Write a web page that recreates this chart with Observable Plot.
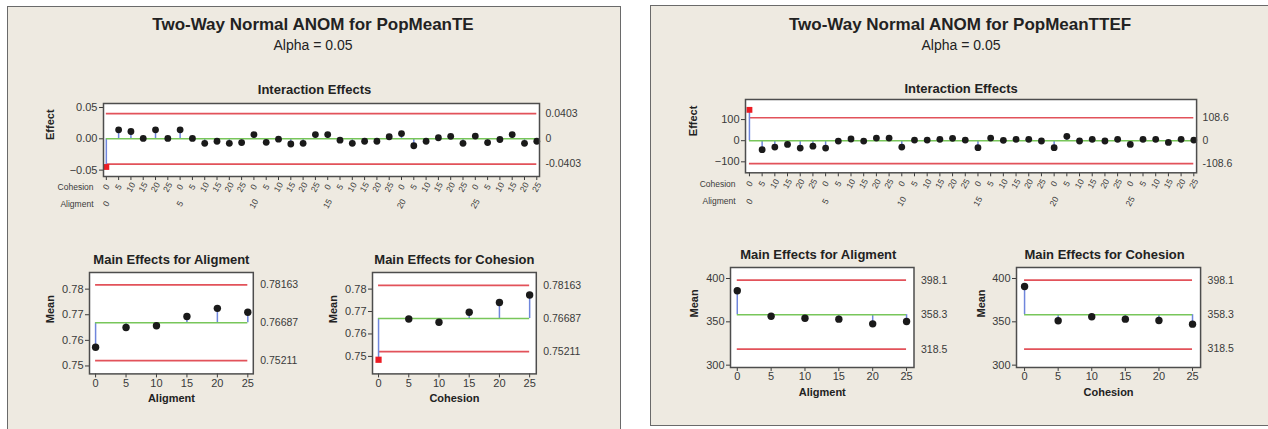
<!DOCTYPE html>
<html><head><meta charset="utf-8">
<script src="https://cdn.jsdelivr.net/npm/d3@7"></script>
<script src="https://cdn.jsdelivr.net/npm/@observablehq/plot@0.6"></script>
<style>
body{margin:0;background:#fff;font-family:"Liberation Sans",Arial,sans-serif;}
#root{position:relative;width:1268px;height:429px;overflow:hidden;background:#fff;}
.panel{position:absolute;background:#eeeae1;border:1px solid #6a6a6a;box-sizing:border-box;}
.ttl{position:absolute;font-weight:bold;font-size:17px;color:#222;transform:translate(-50%,-50%);white-space:nowrap;}
.sub{position:absolute;font-size:14px;color:#222;transform:translate(-50%,-50%);white-space:nowrap;}
</style></head><body><div id="root"></div><script>
// ---------- data ----------
const cohesionLevels = [0, 5, 10, 15, 20, 25];
const alignmentLevels = [0, 5, 10, 15, 20, 25];

const teInteraction = [-0.045, 0.0144, 0.0117, 0.0006, 0.0144, 0.0006,
  0.0144, 0.0006, -0.0072, -0.0039, -0.0072, -0.006,
  0.0067, -0.0056, -0.0006, -0.0083, -0.0072, 0.0067,
  0.0067, -0.0022, -0.0072, -0.0039, -0.0039, 0.0033,
  0.0083, -0.0111, -0.0039, 0.0017, 0.0039, -0.0072,
  0.0044, -0.006, -0.0011, 0.0067, -0.0072, -0.0039];
const teAlignMeans = [0.7573, 0.7650, 0.7657, 0.7693, 0.7725, 0.7710];
const teCohesionMeans = [0.7485, 0.7667, 0.7652, 0.7697, 0.7740, 0.7774];
const teInterLimit = 0.0403;
const teInterLabels = ["0.0403", "0", "-0.0403"];
const teMainCenter = 0.76687, teMainUCL = 0.78163, teMainLCL = 0.75211;
const teMainLabels = ["0.78163", "0.76687", "0.75211"];
const teInterTicks = [-0.05, 0, 0.05];
const teMainTicks = [0.75, 0.76, 0.77, 0.78];

const ttefInteraction = [146, -42.5, -30, -17.5, -35, -26,
  -35, -2, 8, -2, 12.5, 12.5,
  -30, 3, 3, 6.5, 11, 3,
  -33, 12.5, 1.5, 6.5, 6.5, -1.5,
  -33, 20.5, -1.5, 6.5, -1.5, 6.5,
  -17.5, 6.5, 6.5, -8, 6.5, 3];
const ttefAlignMeans = [385.8, 356.5, 354.2, 353.1, 347.7, 350.4];
const ttefCohesionMeans = [390.8, 351.2, 355.8, 353.1, 351.5, 347.3];
const ttefInterLimit = 108.6;
const ttefInterLabels = ["108.6", "0", "-108.6"];
const ttefMainCenter = 358.3, ttefMainUCL = 398.1, ttefMainLCL = 318.5;
const ttefMainLabels = ["398.1", "358.3", "318.5"];
const ttefInterTicks = [-100, 0, 100];
const ttefMainTicks = [300, 350, 400];

// ---------- styles ----------
const RED = "#e2525a", GREEN = "#78c65a", BLUE = "#6f86dc", INK = "#222", TICK = "#3a3a3a";
const FONT = "Liberation Sans, Arial, sans-serif";
const root = document.getElementById("root");

function div(cls, text, left, top, w, h) {
  const d = document.createElement("div");
  d.className = cls;
  if (text) d.textContent = text;
  d.style.left = left + "px"; d.style.top = top + "px";
  if (w != null) d.style.width = w + "px";
  if (h != null) d.style.height = h + "px";
  root.appendChild(d);
  return d;
}

const idx = d3.range(36);

function anom(o) {
  const ml = 75, mr = 65, mt = 24, mb = 44;
  const [fx0, fy0, fx1, fy1] = o.frame;
  const w = fx1 - fx0 + ml + mr, h = fy1 - fy0 + mt + mb;
  const pts = o.x.map((x, i) => ({x, v: o.values[i]}));
  const inside = pts.filter(d => d.v <= o.ucl && d.v >= o.lcl);
  const outside = pts.filter(d => d.v > o.ucl || d.v < o.lcl);
  const xmin = d3.min(o.x), xmax = d3.max(o.x);
  const limitValues = [o.ucl, o.center, o.lcl];
  const marks = [
    Plot.frame({fill: "white"}),
    Plot.ruleY([o.ucl, o.lcl], {y: d => d, x1: () => xmin, x2: () => xmax, stroke: RED, strokeWidth: 1.7}),
    Plot.ruleX(pts, {x: "x", y1: () => o.center, y2: "v", stroke: BLUE, strokeWidth: 1.5}),
    Plot.ruleY([o.center], {y: d => d, x1: () => xmin, x2: () => xmax, stroke: GREEN, strokeWidth: 1.5}),
    Plot.dot(inside, {x: "x", y: "v", r: o.r, fill: "#1a1a1a"}),
    Plot.dot(outside, {x: "x", y: "v", r: o.sq, symbol: "square", fill: "#ec1c24"}),
    Plot.axisY({ticks: o.yTicks, tickFormat: o.yFormat, tickSize: 4, tickPadding: 2, fontSize: 11, color: TICK, label: null}),
    Plot.text(limitValues, {y: d => d, frameAnchor: "right", dx: o.rightDx, textAnchor: "start", lineAnchor: "middle",
      text: (d, i) => o.limitLabels[i], fontSize: 10.5, fill: TICK}),
    Plot.text([o.title], {frameAnchor: "top", dx: o.titleDx, dy: o.titleDy, text: d => d, lineAnchor: "middle",
      fontWeight: "bold", fontSize: 13, fill: INK}),
    Plot.text([o.yLabel], {frameAnchor: "left", dx: o.yLabelDx, rotate: -90, text: d => d, lineAnchor: "middle",
      fontWeight: "bold", fontSize: 11, fill: INK}),
    ...o.extra,
    Plot.frame({stroke: "#4d4d4d", strokeWidth: 1.5})
  ];
  const svg = Plot.plot({
    width: w, height: h, marginLeft: ml, marginRight: mr, marginTop: mt, marginBottom: mb,
    x: {domain: o.xDomain}, y: {domain: o.yDomain},
    style: {background: "transparent", fontFamily: FONT, overflow: "visible"},
    marks
  });
  svg.style.position = "absolute";
  svg.style.left = (fx0 - ml) + "px";
  svg.style.top = (fy0 - mt) + "px";
  svg.style.maxWidth = "none";
  root.appendChild(svg);
}

function interactionExtra(cohDy, aliDy) {
  return [
    Plot.axisX({ticks: idx, tickFormat: () => "", tickSize: 4, color: TICK, label: null}),
    Plot.text(idx, {x: d => d, frameAnchor: "bottom", dy: cohDy, rotate: -60, lineAnchor: "middle",
      text: d => String(cohesionLevels[d % 6]), fontSize: 8.5, fill: TICK}),
    Plot.text(idx.filter(d => d % 6 === 0), {x: d => d, frameAnchor: "bottom", dy: aliDy, rotate: -60, lineAnchor: "middle",
      text: d => String(alignmentLevels[d / 6]), fontSize: 8.5, fill: TICK}),
    Plot.text(["Cohesion"], {frameAnchor: "bottom-left", dx: -10, dy: cohDy, textAnchor: "end", lineAnchor: "middle",
      text: d => d, fontSize: 8.5, fill: TICK}),
    Plot.text(["Aligment"], {frameAnchor: "bottom-left", dx: -10, dy: aliDy, textAnchor: "end", lineAnchor: "middle",
      text: d => d, fontSize: 8.5, fill: TICK})
  ];
}
function mainExtra(label, dy) {
  return [
    Plot.axisX({ticks: cohesionLevels, tickSize: 4, tickPadding: 1, fontSize: 11, color: TICK, label: null}),
    Plot.text([label], {frameAnchor: "bottom", dy: dy, text: d => d, lineAnchor: "middle",
      fontWeight: "bold", fontSize: 11, fill: INK})
  ];
}

// ---------- panels ----------
div("panel", null, 7, 6, 614, 440);
div("panel", null, 650, 5, 640, 421);
div("ttl", "Two-Way Normal ANOM for PopMeanTE", 313, 25);
div("sub", "Alpha = 0.05", 313, 45);
div("ttl", "Two-Way Normal ANOM for PopMeanTTEF", 960, 25);
div("sub", "Alpha = 0.05", 961, 45);

const f2 = d3.format(".2f");

// Left: PopMeanTE
anom({frame: [102.5, 103, 538.5, 176], xDomain: [-0.23, 35.22], yDomain: [-0.0602, 0.0564],
  x: idx, values: teInteraction, center: 0, ucl: teInterLimit, lcl: -teInterLimit,
  limitLabels: teInterLabels, yTicks: teInterTicks, yFormat: f2, r: 3.4, sq: 3.3, rightDx: 6,
  title: "Interaction Effects", titleDx: -7, titleDy: -13.5, yLabel: "Effect", yLabelDx: -53,
  extra: interactionExtra(10.7, 27.3)});
anom({frame: [89.4, 272.3, 253.2, 373.7], xDomain: [-1, 25.9], yDomain: [0.7469, 0.7865],
  x: alignmentLevels, values: teAlignMeans, center: teMainCenter, ucl: teMainUCL, lcl: teMainLCL,
  limitLabels: teMainLabels, yTicks: teMainTicks, yFormat: f2, r: 3.7, sq: 3.5, rightDx: 7,
  title: "Main Effects for Aligment", titleDx: 0, titleDy: -13, yLabel: "Mean", yLabelDx: -39,
  extra: mainExtra("Aligment", 24.5)});
anom({frame: [371.6, 272.3, 535.4, 373.7], xDomain: [-1, 26.1], yDomain: [0.7422, 0.7874],
  x: cohesionLevels, values: teCohesionMeans, center: teMainCenter, ucl: teMainUCL, lcl: teMainLCL,
  limitLabels: teMainLabels, yTicks: teMainTicks, yFormat: f2, r: 3.7, sq: 3.5, rightDx: 7,
  title: "Main Effects for Cohesion", titleDx: 0, titleDy: -13, yLabel: "Mean", yLabelDx: -39.5,
  extra: mainExtra("Cohesion", 24.5)});

// Right: PopMeanTTEF
const f0 = d3.format("d");
anom({frame: [745.4, 99, 1196.5, 172.3], xDomain: [-0.31, 35.22], yDomain: [-152, 195],
  x: idx, values: ttefInteraction, center: 0, ucl: ttefInterLimit, lcl: -ttefInterLimit,
  limitLabels: ttefInterLabels, yTicks: ttefInterTicks, yFormat: f0, r: 3.4, sq: 3.3, rightDx: 6,
  title: "Interaction Effects", titleDx: -10, titleDy: -10.7, yLabel: "Effect", yLabelDx: -52.4,
  extra: interactionExtra(11, 28.7)});
anom({frame: [729.5, 267.3, 913, 367.3], xDomain: [-1, 26.1], yDomain: [297.3, 412.7],
  x: alignmentLevels, values: ttefAlignMeans, center: ttefMainCenter, ucl: ttefMainUCL, lcl: ttefMainLCL,
  limitLabels: ttefMainLabels, yTicks: ttefMainTicks, yFormat: f0, r: 3.7, sq: 3.5, rightDx: 7,
  title: "Main Effects for Aligment", titleDx: -4, titleDy: -12.3, yLabel: "Mean", yLabelDx: -35.8,
  extra: mainExtra("Aligment", 25)});
anom({frame: [1016.4, 267.3, 1200.5, 367.3], xDomain: [-1.2, 26.2], yDomain: [297.3, 412.7],
  x: cohesionLevels, values: ttefCohesionMeans, center: ttefMainCenter, ucl: ttefMainUCL, lcl: ttefMainLCL,
  limitLabels: ttefMainLabels, yTicks: ttefMainTicks, yFormat: f0, r: 3.7, sq: 3.5, rightDx: 7,
  title: "Main Effects for Cohesion", titleDx: -4, titleDy: -12.3, yLabel: "Mean", yLabelDx: -35.4,
  extra: mainExtra("Cohesion", 25)});
</script></body></html>
